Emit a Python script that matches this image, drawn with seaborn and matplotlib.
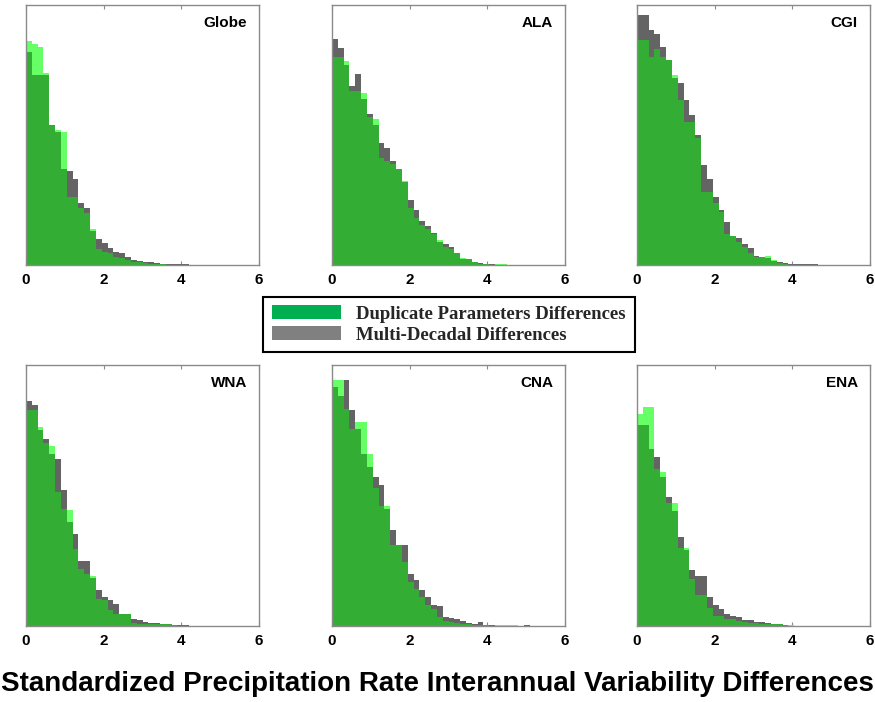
import numpy as np
import pandas as pd
import matplotlib
matplotlib.use("Agg")
import matplotlib.pyplot as plt
from matplotlib.patches import Patch
import seaborn as sns

# ---------------- data (relative bin heights) ----------------
BIN_WIDTH = 0.15
N_BINS = 40
X_RANGE = (0, 6)

regions = ["Globe", "ALA", "CGI", "WNA", "CNA", "ENA"]
x_ticks = [0, 2, 4, 6]
legend_labels = ["Duplicate Parameters Differences", "Multi-Decadal Differences"]
title_text = "Standardized Precipitation Rate Interannual Variability Differences"

# Duplicate Parameters Differences (green)
globe_dup = [0.86, 0.85, 0.84, 0.74, 0.54, 0.52, 0.51, 0.26, 0.26, 0.22, 0.20, 0.14, 0.06, 0.05,
             0.045, 0.03, 0.028, 0.02, 0.012, 0.01, 0.006, 0.004, 0.003, 0.002, 0.001, 0.001]
ala_dup = [0.80, 0.80, 0.785, 0.67, 0.67, 0.66, 0.57, 0.56, 0.41, 0.40, 0.39, 0.37, 0.325, 0.22,
           0.18, 0.155, 0.14, 0.12, 0.097, 0.07, 0.06, 0.046, 0.028, 0.025, 0.01, 0.004, 0.002,
           0.001, 0.002, 0.004, 0.001]
cgi_dup = [0.865, 0.865, 0.80, 0.83, 0.80, 0.79, 0.73, 0.634, 0.55, 0.55, 0.49, 0.28, 0.28, 0.24,
           0.205, 0.12, 0.11, 0.09, 0.07, 0.045, 0.03, 0.03, 0.035, 0.02, 0.008, 0.003, 0.001]
wna_dup = [0.826, 0.826, 0.762, 0.70, 0.69, 0.513, 0.45, 0.443, 0.296, 0.22, 0.20, 0.19, 0.105,
           0.10, 0.06, 0.047, 0.047, 0.045, 0.01, 0.008, 0.007, 0.007, 0.006, 0.008, 0.008, 0.002]
cna_dup = [0.944, 0.944, 0.83, 0.756, 0.78, 0.78, 0.66, 0.53, 0.458, 0.458, 0.31, 0.31, 0.245,
           0.17, 0.14, 0.11, 0.08, 0.065, 0.035, 0.02, 0.015, 0.012, 0.008, 0.006, 0.004, 0.002,
           0.002, 0.001, 0.003, 0.005, 0.005, 0.003]
ena_dup = [0.814, 0.84, 0.84, 0.60, 0.59, 0.47, 0.47, 0.30, 0.30, 0.18, 0.117, 0.117, 0.07, 0.04,
           0.04, 0.028, 0.025, 0.02, 0.015, 0.012, 0.01, 0.009, 0.009, 0.009, 0.009, 0.005, 0.003]

# Multi-Decadal Differences (grey)
globe_dec = [0.82, 0.73, 0.73, 0.73, 0.54, 0.51, 0.37, 0.36, 0.33, 0.24, 0.22, 0.13, 0.10, 0.085,
             0.065, 0.05, 0.045, 0.03, 0.02, 0.015, 0.012, 0.01, 0.007, 0.005, 0.004, 0.003,
             0.002, 0.002, 0.001, 0.001]
ala_dec = [0.87, 0.835, 0.77, 0.69, 0.735, 0.64, 0.58, 0.54, 0.47, 0.45, 0.40, 0.37, 0.32, 0.25,
           0.21, 0.17, 0.15, 0.125, 0.09, 0.08, 0.07, 0.045, 0.025, 0.022, 0.013, 0.008, 0.005,
           0.002, 0.001]
cgi_dec = [0.96, 0.96, 0.905, 0.89, 0.84, 0.79, 0.72, 0.70, 0.634, 0.576, 0.50, 0.385, 0.33, 0.26,
           0.21, 0.165, 0.11, 0.105, 0.08, 0.064, 0.035, 0.03, 0.028, 0.015, 0.01, 0.006, 0.005,
           0.004, 0.003, 0.002, 0.002, 0.001]
wna_dec = [0.862, 0.845, 0.75, 0.718, 0.66, 0.64, 0.52, 0.40, 0.354, 0.25, 0.25, 0.185, 0.137,
           0.11, 0.098, 0.085, 0.047, 0.045, 0.028, 0.022, 0.015, 0.013, 0.01, 0.008, 0.006,
           0.004, 0.003, 0.002, 0.001]
cna_dec = [0.915, 0.88, 0.944, 0.826, 0.756, 0.66, 0.61, 0.57, 0.54, 0.45, 0.366, 0.31, 0.31, 0.20,
           0.175, 0.137, 0.11, 0.08, 0.075, 0.035, 0.03, 0.028, 0.02, 0.01, 0.006, 0.015, 0.004,
           0.002, 0.001, 0.001, 0.0, 0.0, 0.0, 0.002]
ena_dec = [0.77, 0.77, 0.68, 0.648, 0.57, 0.494, 0.44, 0.34, 0.29, 0.213, 0.19, 0.19, 0.11, 0.08,
           0.066, 0.045, 0.04, 0.035, 0.022, 0.022, 0.015, 0.015, 0.01, 0.008, 0.006, 0.002, 0.001]

dup_series = [globe_dup, ala_dup, cgi_dup, wna_dup, cna_dup, ena_dup]
dec_series = [globe_dec, ala_dec, cgi_dec, wna_dec, cna_dec, ena_dec]

# ---------------- styling ----------------
C_DUP = "#66ff66"      # duplicate-only (light green)
C_DEC = "#646464"      # multi-decadal-only (grey)
C_BOTH = "#33ad33"     # overlap (mid green)
C_LEG_DUP = "#00b050"
C_LEG_DEC = "#808080"
SPINE = "#8a8a8a"

sns.set_theme(style="white")
plt.rcParams["font.family"] = ["Liberation Sans", "DejaVu Sans"]

fig = plt.figure(figsize=(8.75, 7.02), dpi=100)

W, H = 875.0, 702.0
lefts = [26, 332, 637]
rows = [(5, 265), (365, 626)]
rects = []
for (top, bot) in rows:
    for lx in lefts:
        rects.append([lx / W, (H - bot) / H, 233 / W, (bot - top) / H])

centers = X_RANGE[0] + BIN_WIDTH * (np.arange(N_BINS) + 0.5)


def padded(vals):
    out = np.zeros(N_BINS)
    out[:len(vals)] = vals
    return out


for name, rect, dup, dec in zip(regions, rects, dup_series, dec_series):
    ax = fig.add_axes(rect)
    d = padded(dup)
    m = padded(dec)
    both = np.minimum(d, m)
    df = pd.DataFrame({"x": centers, "dup": d, "dec": m, "both": both})
    for col, color in (("dup", C_DUP), ("dec", C_DEC), ("both", C_BOTH)):
        sns.histplot(data=df, x="x", weights=col, bins=N_BINS, binrange=X_RANGE,
                     element="step", fill=True, color=color, alpha=1, linewidth=0, ax=ax)
    ax.set_xlim(*X_RANGE)
    ax.set_ylim(0, 1)
    ax.set_xlabel("")
    ax.set_ylabel("")
    ax.set_yticks([])
    ax.set_xticks(x_ticks)
    ax.set_xticklabels([str(t) for t in x_ticks], fontweight="bold", fontsize=11)
    ax.tick_params(axis="x", direction="in", top=True, bottom=True, length=3,
                   width=0.8, color=SPINE, pad=6, labelcolor="black")
    for sp in ax.spines.values():
        sp.set_color(SPINE)
        sp.set_linewidth(1.0)
        sp.set_visible(True)
    ax.text(0.948, 0.93, name, transform=ax.transAxes, ha="right", va="center",
            fontsize=11, fontweight="bold", color="black")

handles = [Patch(facecolor=C_LEG_DUP, edgecolor="none"),
           Patch(facecolor=C_LEG_DEC, edgecolor="none")]
leg = fig.legend(handles, legend_labels, loc="center",
                 bbox_to_anchor=((259 + 639) / 2 / W, 1 - (296 + 353) / 2 / H),
                 prop={"family": "Liberation Serif", "weight": "bold", "size": 13.5},
                 frameon=True, fancybox=False, framealpha=1, edgecolor="black",
                 handlelength=3.7, handleheight=0.75, handletextpad=0.8,
                 labelspacing=0.18, borderpad=0.46, borderaxespad=0)
leg.get_frame().set_linewidth(1.5)

fig.text(0.5, 1 - 691 / H, title_text, ha="center", va="baseline",
         fontsize=20, fontweight="bold", color="black")

fig.savefig("out.png", dpi=100)
